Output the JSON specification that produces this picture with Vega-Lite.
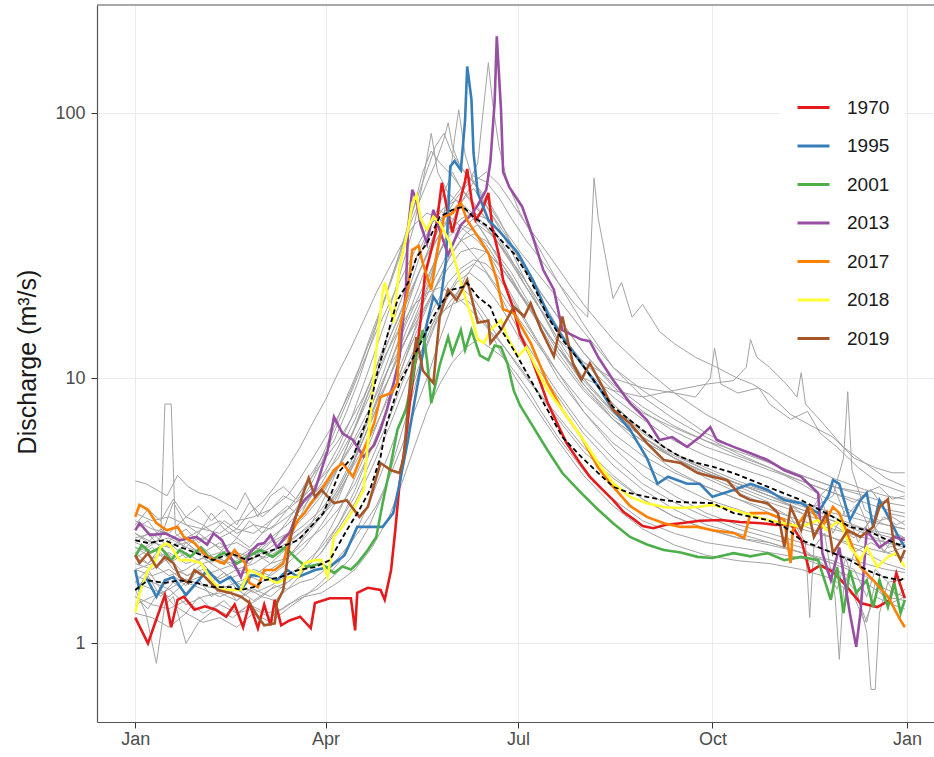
{
  "$schema": "https://vega.github.io/schema/vega-lite/v6.json",
  "width": 837,
  "height": 717,
  "autosize": {"type": "none"},
  "padding": {"left": 97, "top": 5, "right": 0, "bottom": 35},
  "config": {
    "view": {"stroke": null},
    "font": "Liberation Sans",
    "axis": {
      "labelFont": "Liberation Sans",
      "labelFontSize": 18,
      "labelColor": "#4d4d4d",
      "tickColor": "#333333",
      "tickSize": 6,
      "gridColor": "#ebebeb",
      "gridWidth": 1,
      "domainColor": "#555555",
      "domainWidth": 1.2,
      "titleFont": "Liberation Sans",
      "titleFontWeight": "normal",
      "titleColor": "#1a1a1a"
    }
  },
  "datasets": {
    "others": [
      {"year":1972,"day":0,"flow":4.1},{"year":1972,"day":5,"flow":4.0},{"year":1972,"day":10,"flow":3.8},{"year":1972,"day":15,"flow":3.6},{"year":1972,"day":20,"flow":4.3},{"year":1972,"day":25,"flow":3.9},{"year":1972,"day":30,"flow":3.7},{"year":1972,"day":36,"flow":3.6},{"year":1972,"day":42,"flow":3.4},{"year":1972,"day":48,"flow":3.2},{"year":1972,"day":52,"flow":3.7},{"year":1972,"day":58,"flow":3.0},{"year":1972,"day":64,"flow":3.6},{"year":1972,"day":70,"flow":3.9},{"year":1972,"day":76,"flow":3.5},{"year":1972,"day":82,"flow":4.2},{"year":1972,"day":88,"flow":5.0},{"year":1972,"day":94,"flow":5.8},{"year":1972,"day":100,"flow":7.5},{"year":1972,"day":106,"flow":10},{"year":1972,"day":112,"flow":14},{"year":1972,"day":118,"flow":20},{"year":1972,"day":124,"flow":28},{"year":1972,"day":130,"flow":40},{"year":1972,"day":136,"flow":55},{"year":1972,"day":142,"flow":75},{"year":1972,"day":146,"flow":84},{"year":1972,"day":150,"flow":70},{"year":1972,"day":156,"flow":60},{"year":1972,"day":162,"flow":52},{"year":1972,"day":168,"flow":44},{"year":1972,"day":175,"flow":36},{"year":1972,"day":182,"flow":30},{"year":1972,"day":190,"flow":25},{"year":1972,"day":200,"flow":20},{"year":1972,"day":212,"flow":15},{"year":1972,"day":226,"flow":11},{"year":1972,"day":240,"flow":9},{"year":1972,"day":255,"flow":7.5},{"year":1972,"day":270,"flow":6.2},{"year":1972,"day":285,"flow":5.4},{"year":1972,"day":300,"flow":4.8},{"year":1972,"day":315,"flow":4.3},{"year":1972,"day":330,"flow":3.9},{"year":1972,"day":345,"flow":3.7},{"year":1972,"day":352,"flow":3.9},{"year":1972,"day":358,"flow":3.5},{"year":1972,"day":364,"flow":3.6},

      {"year":1975,"day":0,"flow":2.4},{"year":1975,"day":6,"flow":2.3},{"year":1975,"day":12,"flow":2.5},{"year":1975,"day":14,"flow":8.0},{"year":1975,"day":17,"flow":8.0},{"year":1975,"day":19,"flow":2.6},{"year":1975,"day":24,"flow":2.4},{"year":1975,"day":30,"flow":2.2},{"year":1975,"day":38,"flow":2.1},{"year":1975,"day":46,"flow":2.0},{"year":1975,"day":54,"flow":2.2},{"year":1975,"day":62,"flow":2.1},{"year":1975,"day":70,"flow":2.3},{"year":1975,"day":78,"flow":2.6},{"year":1975,"day":86,"flow":2.9},{"year":1975,"day":94,"flow":3.4},{"year":1975,"day":102,"flow":4.5},{"year":1975,"day":110,"flow":6.5},{"year":1975,"day":118,"flow":10},{"year":1975,"day":126,"flow":15},{"year":1975,"day":134,"flow":22},{"year":1975,"day":140,"flow":30},{"year":1975,"day":146,"flow":38},{"year":1975,"day":152,"flow":45},{"year":1975,"day":158,"flow":42},{"year":1975,"day":164,"flow":36},{"year":1975,"day":170,"flow":30},{"year":1975,"day":176,"flow":25},{"year":1975,"day":182,"flow":21},{"year":1975,"day":190,"flow":17},{"year":1975,"day":200,"flow":13},{"year":1975,"day":212,"flow":9.5},{"year":1975,"day":226,"flow":7.2},{"year":1975,"day":240,"flow":6},{"year":1975,"day":255,"flow":5.0},{"year":1975,"day":270,"flow":4.4},{"year":1975,"day":285,"flow":4.0},{"year":1975,"day":300,"flow":3.6},{"year":1975,"day":315,"flow":3.3},{"year":1975,"day":330,"flow":3.0},{"year":1975,"day":340,"flow":2.8},{"year":1975,"day":350,"flow":2.6},{"year":1975,"day":358,"flow":2.5},{"year":1975,"day":364,"flow":2.5},

      {"year":1978,"day":0,"flow":1.6},{"year":1978,"day":5,"flow":1.3},{"year":1978,"day":10,"flow":0.84},{"year":1978,"day":14,"flow":1.4},{"year":1978,"day":18,"flow":1.5},{"year":1978,"day":24,"flow":1.0},{"year":1978,"day":30,"flow":1.2},{"year":1978,"day":38,"flow":1.35},{"year":1978,"day":46,"flow":1.25},{"year":1978,"day":54,"flow":1.4},{"year":1978,"day":62,"flow":1.3},{"year":1978,"day":70,"flow":1.35},{"year":1978,"day":78,"flow":1.5},{"year":1978,"day":86,"flow":1.6},{"year":1978,"day":94,"flow":1.8},{"year":1978,"day":102,"flow":2.1},{"year":1978,"day":110,"flow":2.7},{"year":1978,"day":118,"flow":3.8},{"year":1978,"day":124,"flow":5.5},{"year":1978,"day":130,"flow":8},{"year":1978,"day":136,"flow":12},{"year":1978,"day":142,"flow":16},{"year":1978,"day":148,"flow":19},{"year":1978,"day":154,"flow":22},{"year":1978,"day":160,"flow":20},{"year":1978,"day":166,"flow":17},{"year":1978,"day":172,"flow":14},{"year":1978,"day":178,"flow":12},{"year":1978,"day":185,"flow":10},{"year":1978,"day":192,"flow":8.5},{"year":1978,"day":200,"flow":7.0},{"year":1978,"day":212,"flow":5.3},{"year":1978,"day":226,"flow":4.2},{"year":1978,"day":240,"flow":3.5},{"year":1978,"day":255,"flow":3.0},{"year":1978,"day":270,"flow":2.7},{"year":1978,"day":285,"flow":2.5},{"year":1978,"day":300,"flow":2.4},{"year":1978,"day":315,"flow":2.2},{"year":1978,"day":330,"flow":2.0},{"year":1978,"day":345,"flow":1.8},{"year":1978,"day":355,"flow":1.6},{"year":1978,"day":364,"flow":1.5},

      {"year":1980,"day":0,"flow":2.1},{"year":1980,"day":6,"flow":2.0},{"year":1980,"day":12,"flow":2.2},{"year":1980,"day":18,"flow":1.9},{"year":1980,"day":25,"flow":1.8},{"year":1980,"day":32,"flow":2.0},{"year":1980,"day":40,"flow":1.7},{"year":1980,"day":48,"flow":1.8},{"year":1980,"day":56,"flow":1.9},{"year":1980,"day":64,"flow":1.8},{"year":1980,"day":72,"flow":2.0},{"year":1980,"day":80,"flow":2.3},{"year":1980,"day":88,"flow":2.8},{"year":1980,"day":96,"flow":3.5},{"year":1980,"day":104,"flow":5},{"year":1980,"day":112,"flow":8},{"year":1980,"day":120,"flow":12},{"year":1980,"day":128,"flow":18},{"year":1980,"day":134,"flow":25},{"year":1980,"day":140,"flow":32},{"year":1980,"day":146,"flow":40},{"year":1980,"day":152,"flow":48},{"year":1980,"day":158,"flow":55},{"year":1980,"day":162,"flow":65},{"year":1980,"day":165,"flow":110},{"year":1980,"day":167,"flow":155},{"year":1980,"day":169,"flow":110},{"year":1980,"day":172,"flow":75},{"year":1980,"day":176,"flow":55},{"year":1980,"day":182,"flow":42},{"year":1980,"day":190,"flow":32},{"year":1980,"day":200,"flow":23},{"year":1980,"day":212,"flow":16},{"year":1980,"day":226,"flow":11},{"year":1980,"day":240,"flow":8.5},{"year":1980,"day":255,"flow":7},{"year":1980,"day":270,"flow":6},{"year":1980,"day":285,"flow":5.2},{"year":1980,"day":300,"flow":4.6},{"year":1980,"day":315,"flow":4.0},{"year":1980,"day":330,"flow":3.4},{"year":1980,"day":345,"flow":3.0},{"year":1980,"day":355,"flow":2.8},{"year":1980,"day":364,"flow":2.7},

      {"year":1983,"day":0,"flow":2.9},{"year":1983,"day":8,"flow":2.7},{"year":1983,"day":16,"flow":2.6},{"year":1983,"day":24,"flow":3.0},{"year":1983,"day":32,"flow":2.8},{"year":1983,"day":40,"flow":2.5},{"year":1983,"day":48,"flow":2.7},{"year":1983,"day":56,"flow":2.6},{"year":1983,"day":64,"flow":2.9},{"year":1983,"day":72,"flow":3.2},{"year":1983,"day":80,"flow":3.6},{"year":1983,"day":88,"flow":4.2},{"year":1983,"day":96,"flow":5.0},{"year":1983,"day":104,"flow":6.5},{"year":1983,"day":112,"flow":9},{"year":1983,"day":120,"flow":13},{"year":1983,"day":128,"flow":19},{"year":1983,"day":136,"flow":27},{"year":1983,"day":142,"flow":36},{"year":1983,"day":148,"flow":45},{"year":1983,"day":154,"flow":52},{"year":1983,"day":160,"flow":58},{"year":1983,"day":166,"flow":55},{"year":1983,"day":172,"flow":48},{"year":1983,"day":178,"flow":40},{"year":1983,"day":185,"flow":33},{"year":1983,"day":192,"flow":28},{"year":1983,"day":200,"flow":23},{"year":1983,"day":208,"flow":19},{"year":1983,"day":214,"flow":17},{"year":1983,"day":217,"flow":57},{"year":1983,"day":219,"flow":40},{"year":1983,"day":222,"flow":30},{"year":1983,"day":226,"flow":20},{"year":1983,"day":230,"flow":23},{"year":1983,"day":235,"flow":17},{"year":1983,"day":240,"flow":19},{"year":1983,"day":248,"flow":15},{"year":1983,"day":255,"flow":13.5},{"year":1983,"day":265,"flow":12},{"year":1983,"day":275,"flow":11},{"year":1983,"day":285,"flow":10},{"year":1983,"day":292,"flow":9.5},{"year":1983,"day":300,"flow":8.7},{"year":1983,"day":310,"flow":7.3},{"year":1983,"day":320,"flow":6.6},{"year":1983,"day":330,"flow":6.0},{"year":1983,"day":340,"flow":5.0},{"year":1983,"day":350,"flow":4.6},{"year":1983,"day":358,"flow":4.4},{"year":1983,"day":364,"flow":4.4},

      {"year":1986,"day":0,"flow":2.3},{"year":1986,"day":8,"flow":2.2},{"year":1986,"day":16,"flow":2.4},{"year":1986,"day":24,"flow":2.1},{"year":1986,"day":32,"flow":2.3},{"year":1986,"day":40,"flow":2.0},{"year":1986,"day":48,"flow":2.2},{"year":1986,"day":56,"flow":2.1},{"year":1986,"day":64,"flow":2.4},{"year":1986,"day":72,"flow":2.6},{"year":1986,"day":80,"flow":3.0},{"year":1986,"day":88,"flow":3.6},{"year":1986,"day":96,"flow":4.6},{"year":1986,"day":104,"flow":6.5},{"year":1986,"day":112,"flow":9.5},{"year":1986,"day":120,"flow":14},{"year":1986,"day":128,"flow":20},{"year":1986,"day":134,"flow":28},{"year":1986,"day":140,"flow":38},{"year":1986,"day":146,"flow":50},{"year":1986,"day":150,"flow":60},{"year":1986,"day":154,"flow":52},{"year":1986,"day":160,"flow":45},{"year":1986,"day":166,"flow":40},{"year":1986,"day":172,"flow":34},{"year":1986,"day":178,"flow":28},{"year":1986,"day":185,"flow":22},{"year":1986,"day":192,"flow":18},{"year":1986,"day":200,"flow":14},{"year":1986,"day":212,"flow":11.5},{"year":1986,"day":226,"flow":10},{"year":1986,"day":240,"flow":9.2},{"year":1986,"day":255,"flow":8.8},{"year":1986,"day":265,"flow":8.5},{"year":1986,"day":272,"flow":10},{"year":1986,"day":274,"flow":13},{"year":1986,"day":277,"flow":9.5},{"year":1986,"day":285,"flow":8.8},{"year":1986,"day":295,"flow":9.2},{"year":1986,"day":300,"flow":8},{"year":1986,"day":310,"flow":7},{"year":1986,"day":318,"flow":7.5},{"year":1986,"day":324,"flow":6.2},{"year":1986,"day":332,"flow":5.5},{"year":1986,"day":342,"flow":4.6},{"year":1986,"day":352,"flow":4.0},{"year":1986,"day":364,"flow":3.7},

      {"year":1989,"day":0,"flow":2.6},{"year":1989,"day":8,"flow":2.4},{"year":1989,"day":16,"flow":2.5},{"year":1989,"day":24,"flow":2.3},{"year":1989,"day":32,"flow":2.2},{"year":1989,"day":40,"flow":2.4},{"year":1989,"day":48,"flow":2.1},{"year":1989,"day":56,"flow":2.3},{"year":1989,"day":64,"flow":2.2},{"year":1989,"day":72,"flow":2.5},{"year":1989,"day":80,"flow":2.8},{"year":1989,"day":88,"flow":3.2},{"year":1989,"day":96,"flow":3.9},{"year":1989,"day":104,"flow":5.2},{"year":1989,"day":112,"flow":7.5},{"year":1989,"day":120,"flow":11},{"year":1989,"day":128,"flow":16},{"year":1989,"day":136,"flow":22},{"year":1989,"day":142,"flow":28},{"year":1989,"day":148,"flow":34},{"year":1989,"day":154,"flow":38},{"year":1989,"day":160,"flow":36},{"year":1989,"day":166,"flow":32},{"year":1989,"day":172,"flow":27},{"year":1989,"day":178,"flow":23},{"year":1989,"day":185,"flow":19},{"year":1989,"day":192,"flow":16},{"year":1989,"day":200,"flow":13},{"year":1989,"day":212,"flow":10},{"year":1989,"day":226,"flow":9},{"year":1989,"day":240,"flow":8.5},{"year":1989,"day":255,"flow":9.0},{"year":1989,"day":270,"flow":9.5},{"year":1989,"day":283,"flow":9.8},{"year":1989,"day":289,"flow":11},{"year":1989,"day":291,"flow":14},{"year":1989,"day":294,"flow":12},{"year":1989,"day":300,"flow":11},{"year":1989,"day":308,"flow":9.5},{"year":1989,"day":313,"flow":8.5},{"year":1989,"day":315,"flow":10.5},{"year":1989,"day":317,"flow":8},{"year":1989,"day":325,"flow":6.8},{"year":1989,"day":335,"flow":5.5},{"year":1989,"day":345,"flow":4.8},{"year":1989,"day":355,"flow":4.2},{"year":1989,"day":364,"flow":3.9},

      {"year":1991,"day":0,"flow":2.0},{"year":1991,"day":8,"flow":1.9},{"year":1991,"day":16,"flow":2.1},{"year":1991,"day":24,"flow":1.8},{"year":1991,"day":32,"flow":1.9},{"year":1991,"day":40,"flow":1.75},{"year":1991,"day":48,"flow":1.9},{"year":1991,"day":56,"flow":1.8},{"year":1991,"day":64,"flow":2.0},{"year":1991,"day":72,"flow":2.1},{"year":1991,"day":80,"flow":2.4},{"year":1991,"day":88,"flow":2.7},{"year":1991,"day":96,"flow":3.2},{"year":1991,"day":104,"flow":4.0},{"year":1991,"day":112,"flow":5.5},{"year":1991,"day":120,"flow":8},{"year":1991,"day":128,"flow":12},{"year":1991,"day":136,"flow":17},{"year":1991,"day":142,"flow":22},{"year":1991,"day":148,"flow":28},{"year":1991,"day":154,"flow":33},{"year":1991,"day":160,"flow":35},{"year":1991,"day":166,"flow":33},{"year":1991,"day":172,"flow":29},{"year":1991,"day":178,"flow":25},{"year":1991,"day":185,"flow":20},{"year":1991,"day":192,"flow":16},{"year":1991,"day":200,"flow":12.5},{"year":1991,"day":212,"flow":9.2},{"year":1991,"day":226,"flow":7.0},{"year":1991,"day":240,"flow":5.8},{"year":1991,"day":255,"flow":5.0},{"year":1991,"day":270,"flow":4.4},{"year":1991,"day":285,"flow":4.0},{"year":1991,"day":300,"flow":3.7},{"year":1991,"day":312,"flow":3.4},{"year":1991,"day":322,"flow":3.3},{"year":1991,"day":330,"flow":3.6},{"year":1991,"day":335,"flow":5},{"year":1991,"day":337,"flow":8.9},{"year":1991,"day":339,"flow":4.5},{"year":1991,"day":345,"flow":3.2},{"year":1991,"day":352,"flow":2.9},{"year":1991,"day":358,"flow":3.0},{"year":1991,"day":364,"flow":2.8},

      {"year":1993,"day":0,"flow":1.7},{"year":1993,"day":8,"flow":1.6},{"year":1993,"day":16,"flow":1.5},{"year":1993,"day":24,"flow":1.7},{"year":1993,"day":32,"flow":1.6},{"year":1993,"day":40,"flow":1.5},{"year":1993,"day":48,"flow":1.6},{"year":1993,"day":56,"flow":1.45},{"year":1993,"day":64,"flow":1.6},{"year":1993,"day":72,"flow":1.7},{"year":1993,"day":80,"flow":1.9},{"year":1993,"day":88,"flow":2.2},{"year":1993,"day":96,"flow":2.7},{"year":1993,"day":104,"flow":3.4},{"year":1993,"day":112,"flow":4.6},{"year":1993,"day":120,"flow":6.5},{"year":1993,"day":128,"flow":9.5},{"year":1993,"day":136,"flow":13},{"year":1993,"day":142,"flow":17},{"year":1993,"day":148,"flow":21},{"year":1993,"day":154,"flow":25},{"year":1993,"day":160,"flow":27},{"year":1993,"day":166,"flow":25},{"year":1993,"day":172,"flow":21},{"year":1993,"day":178,"flow":17},{"year":1993,"day":185,"flow":13.5},{"year":1993,"day":192,"flow":11},{"year":1993,"day":200,"flow":8.8},{"year":1993,"day":212,"flow":6.5},{"year":1993,"day":226,"flow":5.0},{"year":1993,"day":240,"flow":4.0},{"year":1993,"day":255,"flow":3.4},{"year":1993,"day":270,"flow":3.0},{"year":1993,"day":285,"flow":2.7},{"year":1993,"day":300,"flow":2.5},{"year":1993,"day":315,"flow":2.3},{"year":1993,"day":325,"flow":2.0},{"year":1993,"day":332,"flow":1.6},{"year":1993,"day":336,"flow":2.1},{"year":1993,"day":342,"flow":1.5},{"year":1993,"day":346,"flow":1.1},{"year":1993,"day":348,"flow":0.67},{"year":1993,"day":350,"flow":0.67},{"year":1993,"day":352,"flow":1.3},{"year":1993,"day":356,"flow":1.7},{"year":1993,"day":360,"flow":1.5},{"year":1993,"day":364,"flow":1.6},

      {"year":1997,"day":0,"flow":1.9},{"year":1997,"day":8,"flow":2.0},{"year":1997,"day":16,"flow":1.8},{"year":1997,"day":24,"flow":1.9},{"year":1997,"day":32,"flow":2.1},{"year":1997,"day":40,"flow":1.9},{"year":1997,"day":48,"flow":2.0},{"year":1997,"day":56,"flow":2.2},{"year":1997,"day":64,"flow":2.0},{"year":1997,"day":72,"flow":2.3},{"year":1997,"day":80,"flow":2.6},{"year":1997,"day":88,"flow":3.0},{"year":1997,"day":96,"flow":3.8},{"year":1997,"day":104,"flow":5.0},{"year":1997,"day":112,"flow":7.0},{"year":1997,"day":120,"flow":10},{"year":1997,"day":128,"flow":14},{"year":1997,"day":136,"flow":19},{"year":1997,"day":142,"flow":24},{"year":1997,"day":148,"flow":30},{"year":1997,"day":154,"flow":36},{"year":1997,"day":160,"flow":40},{"year":1997,"day":166,"flow":37},{"year":1997,"day":172,"flow":32},{"year":1997,"day":178,"flow":27},{"year":1997,"day":185,"flow":22},{"year":1997,"day":192,"flow":18},{"year":1997,"day":200,"flow":14},{"year":1997,"day":212,"flow":10},{"year":1997,"day":226,"flow":7.5},{"year":1997,"day":240,"flow":6.0},{"year":1997,"day":255,"flow":5.0},{"year":1997,"day":270,"flow":4.2},{"year":1997,"day":285,"flow":3.7},{"year":1997,"day":300,"flow":3.3},{"year":1997,"day":310,"flow":3.0},{"year":1997,"day":317,"flow":2.4},{"year":1997,"day":319,"flow":1.25},{"year":1997,"day":321,"flow":2.3},{"year":1997,"day":326,"flow":2.6},{"year":1997,"day":331,"flow":1.5},{"year":1997,"day":333,"flow":0.87},{"year":1997,"day":335,"flow":1.6},{"year":1997,"day":340,"flow":2.2},{"year":1997,"day":348,"flow":2.4},{"year":1997,"day":356,"flow":2.2},{"year":1997,"day":364,"flow":2.3},

      {"year":1999,"day":0,"flow":1.5},{"year":1999,"day":8,"flow":1.4},{"year":1999,"day":16,"flow":1.35},{"year":1999,"day":24,"flow":1.45},{"year":1999,"day":32,"flow":1.3},{"year":1999,"day":40,"flow":1.4},{"year":1999,"day":48,"flow":1.3},{"year":1999,"day":56,"flow":1.35},{"year":1999,"day":64,"flow":1.25},{"year":1999,"day":72,"flow":1.4},{"year":1999,"day":80,"flow":1.5},{"year":1999,"day":88,"flow":1.55},{"year":1999,"day":96,"flow":1.7},{"year":1999,"day":104,"flow":1.9},{"year":1999,"day":112,"flow":2.3},{"year":1999,"day":120,"flow":3.0},{"year":1999,"day":126,"flow":4.0},{"year":1999,"day":132,"flow":5.5},{"year":1999,"day":138,"flow":7.5},{"year":1999,"day":144,"flow":9.5},{"year":1999,"day":150,"flow":11.5},{"year":1999,"day":156,"flow":13},{"year":1999,"day":162,"flow":14},{"year":1999,"day":168,"flow":13},{"year":1999,"day":174,"flow":12},{"year":1999,"day":180,"flow":10.5},{"year":1999,"day":186,"flow":9},{"year":1999,"day":192,"flow":7.5},{"year":1999,"day":200,"flow":6},{"year":1999,"day":212,"flow":4.5},{"year":1999,"day":226,"flow":3.5},{"year":1999,"day":240,"flow":2.9},{"year":1999,"day":255,"flow":2.6},{"year":1999,"day":270,"flow":2.4},{"year":1999,"day":285,"flow":2.3},{"year":1999,"day":300,"flow":2.2},{"year":1999,"day":315,"flow":2.1},{"year":1999,"day":330,"flow":1.9},{"year":1999,"day":345,"flow":1.7},{"year":1999,"day":355,"flow":1.5},{"year":1999,"day":364,"flow":1.45},

      {"year":2003,"day":0,"flow":2.2},{"year":2003,"day":8,"flow":2.4},{"year":2003,"day":16,"flow":2.3},{"year":2003,"day":24,"flow":2.5},{"year":2003,"day":32,"flow":2.7},{"year":2003,"day":40,"flow":2.6},{"year":2003,"day":48,"flow":2.9},{"year":2003,"day":56,"flow":3.0},{"year":2003,"day":64,"flow":3.2},{"year":2003,"day":70,"flow":3.6},{"year":2003,"day":76,"flow":3.4},{"year":2003,"day":82,"flow":4.0},{"year":2003,"day":88,"flow":5.0},{"year":2003,"day":94,"flow":6.5},{"year":2003,"day":100,"flow":8.5},{"year":2003,"day":106,"flow":11},{"year":2003,"day":112,"flow":15},{"year":2003,"day":118,"flow":20},{"year":2003,"day":124,"flow":28},{"year":2003,"day":130,"flow":38},{"year":2003,"day":136,"flow":50},{"year":2003,"day":142,"flow":65},{"year":2003,"day":146,"flow":80},{"year":2003,"day":148,"flow":92},{"year":2003,"day":150,"flow":75},{"year":2003,"day":154,"flow":62},{"year":2003,"day":160,"flow":55},{"year":2003,"day":166,"flow":48},{"year":2003,"day":172,"flow":40},{"year":2003,"day":178,"flow":32},{"year":2003,"day":185,"flow":25},{"year":2003,"day":192,"flow":20},{"year":2003,"day":200,"flow":15.5},{"year":2003,"day":212,"flow":11},{"year":2003,"day":226,"flow":8},{"year":2003,"day":240,"flow":6.2},{"year":2003,"day":255,"flow":5.2},{"year":2003,"day":270,"flow":4.6},{"year":2003,"day":285,"flow":4.1},{"year":2003,"day":300,"flow":3.7},{"year":2003,"day":315,"flow":3.4},{"year":2003,"day":330,"flow":3.1},{"year":2003,"day":345,"flow":2.9},{"year":2003,"day":355,"flow":2.8},{"year":2003,"day":364,"flow":2.7},

      {"year":2005,"day":0,"flow":1.4},{"year":2005,"day":8,"flow":1.5},{"year":2005,"day":16,"flow":1.6},{"year":2005,"day":24,"flow":1.4},{"year":2005,"day":32,"flow":1.5},{"year":2005,"day":40,"flow":1.55},{"year":2005,"day":48,"flow":1.45},{"year":2005,"day":56,"flow":1.6},{"year":2005,"day":64,"flow":1.5},{"year":2005,"day":72,"flow":1.7},{"year":2005,"day":80,"flow":1.9},{"year":2005,"day":88,"flow":2.2},{"year":2005,"day":96,"flow":2.8},{"year":2005,"day":104,"flow":3.8},{"year":2005,"day":112,"flow":5.5},{"year":2005,"day":120,"flow":8},{"year":2005,"day":128,"flow":12},{"year":2005,"day":134,"flow":17},{"year":2005,"day":140,"flow":24},{"year":2005,"day":144,"flow":35},{"year":2005,"day":148,"flow":50},{"year":2005,"day":151,"flow":80},{"year":2005,"day":153,"flow":103},{"year":2005,"day":156,"flow":70},{"year":2005,"day":160,"flow":55},{"year":2005,"day":166,"flow":45},{"year":2005,"day":172,"flow":37},{"year":2005,"day":178,"flow":30},{"year":2005,"day":185,"flow":23},{"year":2005,"day":192,"flow":18},{"year":2005,"day":200,"flow":13.5},{"year":2005,"day":212,"flow":9.5},{"year":2005,"day":226,"flow":7},{"year":2005,"day":240,"flow":5.5},{"year":2005,"day":255,"flow":4.5},{"year":2005,"day":270,"flow":3.9},{"year":2005,"day":285,"flow":3.5},{"year":2005,"day":300,"flow":3.1},{"year":2005,"day":315,"flow":2.8},{"year":2005,"day":330,"flow":2.5},{"year":2005,"day":345,"flow":2.2},{"year":2005,"day":355,"flow":2.0},{"year":2005,"day":364,"flow":1.9},

      {"year":2008,"day":0,"flow":2.7},{"year":2008,"day":6,"flow":2.9},{"year":2008,"day":12,"flow":2.5},{"year":2008,"day":18,"flow":3.4},{"year":2008,"day":24,"flow":2.8},{"year":2008,"day":30,"flow":2.6},{"year":2008,"day":36,"flow":3.1},{"year":2008,"day":42,"flow":2.7},{"year":2008,"day":48,"flow":2.5},{"year":2008,"day":54,"flow":2.9},{"year":2008,"day":60,"flow":2.6},{"year":2008,"day":66,"flow":3.0},{"year":2008,"day":72,"flow":3.3},{"year":2008,"day":78,"flow":3.0},{"year":2008,"day":84,"flow":3.8},{"year":2008,"day":90,"flow":4.5},{"year":2008,"day":96,"flow":5.5},{"year":2008,"day":102,"flow":7},{"year":2008,"day":108,"flow":9.5},{"year":2008,"day":114,"flow":13},{"year":2008,"day":120,"flow":18},{"year":2008,"day":126,"flow":26},{"year":2008,"day":132,"flow":38},{"year":2008,"day":136,"flow":55},{"year":2008,"day":140,"flow":84},{"year":2008,"day":143,"flow":60},{"year":2008,"day":148,"flow":50},{"year":2008,"day":154,"flow":45},{"year":2008,"day":160,"flow":40},{"year":2008,"day":166,"flow":34},{"year":2008,"day":172,"flow":28},{"year":2008,"day":178,"flow":24},{"year":2008,"day":185,"flow":19},{"year":2008,"day":192,"flow":15.5},{"year":2008,"day":200,"flow":12},{"year":2008,"day":212,"flow":9},{"year":2008,"day":226,"flow":7},{"year":2008,"day":240,"flow":5.8},{"year":2008,"day":255,"flow":5},{"year":2008,"day":270,"flow":4.4},{"year":2008,"day":285,"flow":3.9},{"year":2008,"day":300,"flow":3.5},{"year":2008,"day":315,"flow":3.2},{"year":2008,"day":330,"flow":2.9},{"year":2008,"day":345,"flow":2.7},{"year":2008,"day":355,"flow":2.6},{"year":2008,"day":364,"flow":2.5},

      {"year":2010,"day":0,"flow":1.8},{"year":2010,"day":8,"flow":1.7},{"year":2010,"day":16,"flow":1.6},{"year":2010,"day":24,"flow":1.75},{"year":2010,"day":32,"flow":1.65},{"year":2010,"day":40,"flow":1.6},{"year":2010,"day":48,"flow":1.7},{"year":2010,"day":56,"flow":1.55},{"year":2010,"day":64,"flow":1.65},{"year":2010,"day":72,"flow":1.8},{"year":2010,"day":80,"flow":2.0},{"year":2010,"day":88,"flow":2.3},{"year":2010,"day":96,"flow":2.8},{"year":2010,"day":104,"flow":3.6},{"year":2010,"day":112,"flow":5},{"year":2010,"day":120,"flow":7},{"year":2010,"day":126,"flow":9.5},{"year":2010,"day":132,"flow":12.5},{"year":2010,"day":138,"flow":15},{"year":2010,"day":144,"flow":17.5},{"year":2010,"day":150,"flow":19},{"year":2010,"day":156,"flow":20},{"year":2010,"day":162,"flow":18},{"year":2010,"day":168,"flow":15},{"year":2010,"day":174,"flow":12},{"year":2010,"day":180,"flow":10},{"year":2010,"day":186,"flow":8.5},{"year":2010,"day":192,"flow":7.2},{"year":2010,"day":200,"flow":5.8},{"year":2010,"day":212,"flow":4.3},{"year":2010,"day":226,"flow":3.3},{"year":2010,"day":240,"flow":2.7},{"year":2010,"day":255,"flow":2.35},{"year":2010,"day":270,"flow":2.15},{"year":2010,"day":285,"flow":2.05},{"year":2010,"day":300,"flow":2.0},{"year":2010,"day":315,"flow":1.9},{"year":2010,"day":330,"flow":1.75},{"year":2010,"day":340,"flow":1.5},{"year":2010,"day":345,"flow":1.2},{"year":2010,"day":350,"flow":1.5},{"year":2010,"day":358,"flow":1.4},{"year":2010,"day":364,"flow":1.35},

      {"year":2012,"day":0,"flow":2.5},{"year":2012,"day":8,"flow":2.6},{"year":2012,"day":16,"flow":2.3},{"year":2012,"day":24,"flow":2.4},{"year":2012,"day":32,"flow":2.5},{"year":2012,"day":40,"flow":2.3},{"year":2012,"day":48,"flow":2.4},{"year":2012,"day":56,"flow":2.2},{"year":2012,"day":64,"flow":2.5},{"year":2012,"day":72,"flow":2.8},{"year":2012,"day":80,"flow":3.3},{"year":2012,"day":88,"flow":4.0},{"year":2012,"day":96,"flow":5.2},{"year":2012,"day":104,"flow":7},{"year":2012,"day":112,"flow":10},{"year":2012,"day":120,"flow":15},{"year":2012,"day":128,"flow":22},{"year":2012,"day":134,"flow":30},{"year":2012,"day":140,"flow":38},{"year":2012,"day":146,"flow":44},{"year":2012,"day":152,"flow":47},{"year":2012,"day":158,"flow":43},{"year":2012,"day":164,"flow":39},{"year":2012,"day":170,"flow":34},{"year":2012,"day":176,"flow":29},{"year":2012,"day":182,"flow":25},{"year":2012,"day":190,"flow":20},{"year":2012,"day":200,"flow":15},{"year":2012,"day":212,"flow":11},{"year":2012,"day":226,"flow":8.5},{"year":2012,"day":240,"flow":7},{"year":2012,"day":255,"flow":5.8},{"year":2012,"day":270,"flow":5.1},{"year":2012,"day":285,"flow":4.6},{"year":2012,"day":300,"flow":4.2},{"year":2012,"day":312,"flow":3.8},{"year":2012,"day":322,"flow":3.5},{"year":2012,"day":330,"flow":4.0},{"year":2012,"day":336,"flow":3.0},{"year":2012,"day":342,"flow":3.4},{"year":2012,"day":348,"flow":2.6},{"year":2012,"day":354,"flow":3.0},{"year":2012,"day":360,"flow":2.8},{"year":2012,"day":364,"flow":2.9},

      {"year":2015,"day":0,"flow":1.3},{"year":2015,"day":8,"flow":1.25},{"year":2015,"day":16,"flow":1.15},{"year":2015,"day":24,"flow":1.3},{"year":2015,"day":32,"flow":1.2},{"year":2015,"day":40,"flow":1.25},{"year":2015,"day":48,"flow":1.15},{"year":2015,"day":56,"flow":1.3},{"year":2015,"day":64,"flow":1.2},{"year":2015,"day":72,"flow":1.35},{"year":2015,"day":80,"flow":1.5},{"year":2015,"day":88,"flow":1.7},{"year":2015,"day":96,"flow":2.0},{"year":2015,"day":104,"flow":2.6},{"year":2015,"day":112,"flow":3.6},{"year":2015,"day":120,"flow":5.2},{"year":2015,"day":128,"flow":7.8},{"year":2015,"day":134,"flow":11},{"year":2015,"day":140,"flow":15},{"year":2015,"day":146,"flow":19},{"year":2015,"day":152,"flow":23},{"year":2015,"day":158,"flow":25},{"year":2015,"day":164,"flow":23},{"year":2015,"day":170,"flow":20},{"year":2015,"day":176,"flow":17},{"year":2015,"day":182,"flow":14},{"year":2015,"day":190,"flow":11},{"year":2015,"day":200,"flow":8.5},{"year":2015,"day":212,"flow":6.2},{"year":2015,"day":226,"flow":4.7},{"year":2015,"day":240,"flow":3.8},{"year":2015,"day":255,"flow":3.2},{"year":2015,"day":270,"flow":2.8},{"year":2015,"day":285,"flow":2.6},{"year":2015,"day":300,"flow":2.4},{"year":2015,"day":315,"flow":2.2},{"year":2015,"day":330,"flow":2.0},{"year":2015,"day":340,"flow":1.6},{"year":2015,"day":346,"flow":1.2},{"year":2015,"day":350,"flow":1.7},{"year":2015,"day":356,"flow":1.4},{"year":2015,"day":364,"flow":1.5},

      {"year":2016,"day":0,"flow":3.1},{"year":2016,"day":8,"flow":2.9},{"year":2016,"day":16,"flow":3.0},{"year":2016,"day":24,"flow":2.8},{"year":2016,"day":32,"flow":2.7},{"year":2016,"day":40,"flow":2.9},{"year":2016,"day":48,"flow":2.6},{"year":2016,"day":56,"flow":2.8},{"year":2016,"day":64,"flow":2.7},{"year":2016,"day":72,"flow":3.0},{"year":2016,"day":80,"flow":3.4},{"year":2016,"day":88,"flow":3.9},{"year":2016,"day":96,"flow":4.6},{"year":2016,"day":104,"flow":5.8},{"year":2016,"day":112,"flow":7.5},{"year":2016,"day":120,"flow":10},{"year":2016,"day":128,"flow":14},{"year":2016,"day":136,"flow":20},{"year":2016,"day":142,"flow":27},{"year":2016,"day":148,"flow":36},{"year":2016,"day":154,"flow":46},{"year":2016,"day":160,"flow":55},{"year":2016,"day":166,"flow":60},{"year":2016,"day":172,"flow":54},{"year":2016,"day":178,"flow":46},{"year":2016,"day":185,"flow":38},{"year":2016,"day":192,"flow":32},{"year":2016,"day":200,"flow":26},{"year":2016,"day":212,"flow":19},{"year":2016,"day":226,"flow":14},{"year":2016,"day":240,"flow":11},{"year":2016,"day":255,"flow":8.8},{"year":2016,"day":270,"flow":7.3},{"year":2016,"day":285,"flow":6.3},{"year":2016,"day":300,"flow":5.5},{"year":2016,"day":315,"flow":4.8},{"year":2016,"day":330,"flow":4.2},{"year":2016,"day":345,"flow":3.8},{"year":2016,"day":355,"flow":3.6},{"year":2016,"day":364,"flow":3.5},

      {"year":1973,"day":0,"flow":2.1},{"year":1973,"day":8,"flow":2.3},{"year":1973,"day":16,"flow":2.0},{"year":1973,"day":24,"flow":2.2},{"year":1973,"day":32,"flow":2.0},{"year":1973,"day":40,"flow":2.1},{"year":1973,"day":48,"flow":1.9},{"year":1973,"day":56,"flow":2.0},{"year":1973,"day":64,"flow":2.2},{"year":1973,"day":72,"flow":2.4},{"year":1973,"day":80,"flow":2.7},{"year":1973,"day":88,"flow":3.1},{"year":1973,"day":96,"flow":3.8},{"year":1973,"day":104,"flow":5.0},{"year":1973,"day":112,"flow":7.0},{"year":1973,"day":120,"flow":10},{"year":1973,"day":128,"flow":15},{"year":1973,"day":136,"flow":21},{"year":1973,"day":142,"flow":28},{"year":1973,"day":148,"flow":35},{"year":1973,"day":154,"flow":40},{"year":1973,"day":160,"flow":42},{"year":1973,"day":166,"flow":40},{"year":1973,"day":172,"flow":36},{"year":1973,"day":178,"flow":31},{"year":1973,"day":185,"flow":26},{"year":1973,"day":192,"flow":21},{"year":1973,"day":200,"flow":17},{"year":1973,"day":212,"flow":12.5},{"year":1973,"day":226,"flow":9.3},{"year":1973,"day":240,"flow":7.5},{"year":1973,"day":255,"flow":6.3},{"year":1973,"day":270,"flow":5.5},{"year":1973,"day":285,"flow":5.0},{"year":1973,"day":300,"flow":4.5},{"year":1973,"day":315,"flow":4.1},{"year":1973,"day":330,"flow":3.7},{"year":1973,"day":345,"flow":3.4},{"year":1973,"day":355,"flow":3.2},{"year":1973,"day":364,"flow":3.1},

      {"year":1985,"day":0,"flow":1.9},{"year":1985,"day":8,"flow":1.8},{"year":1985,"day":16,"flow":1.9},{"year":1985,"day":24,"flow":1.7},{"year":1985,"day":32,"flow":1.8},{"year":1985,"day":40,"flow":1.9},{"year":1985,"day":48,"flow":1.7},{"year":1985,"day":56,"flow":1.8},{"year":1985,"day":64,"flow":1.9},{"year":1985,"day":72,"flow":2.1},{"year":1985,"day":80,"flow":2.5},{"year":1985,"day":88,"flow":3.0},{"year":1985,"day":96,"flow":3.7},{"year":1985,"day":104,"flow":4.8},{"year":1985,"day":112,"flow":6.2},{"year":1985,"day":120,"flow":8.5},{"year":1985,"day":128,"flow":11},{"year":1985,"day":136,"flow":15},{"year":1985,"day":142,"flow":19},{"year":1985,"day":148,"flow":23},{"year":1985,"day":154,"flow":26},{"year":1985,"day":160,"flow":28},{"year":1985,"day":166,"flow":27},{"year":1985,"day":172,"flow":24},{"year":1985,"day":178,"flow":20},{"year":1985,"day":185,"flow":16},{"year":1985,"day":192,"flow":13},{"year":1985,"day":200,"flow":10},{"year":1985,"day":212,"flow":7.5},{"year":1985,"day":226,"flow":5.7},{"year":1985,"day":240,"flow":4.7},{"year":1985,"day":255,"flow":4.0},{"year":1985,"day":270,"flow":3.5},{"year":1985,"day":285,"flow":3.2},{"year":1985,"day":300,"flow":2.9},{"year":1985,"day":315,"flow":2.7},{"year":1985,"day":330,"flow":2.5},{"year":1985,"day":345,"flow":2.3},{"year":1985,"day":355,"flow":2.2},{"year":1985,"day":364,"flow":2.1},

      {"year":2007,"day":0,"flow":2.3},{"year":2007,"day":8,"flow":2.1},{"year":2007,"day":16,"flow":2.2},{"year":2007,"day":24,"flow":2.0},{"year":2007,"day":32,"flow":2.1},{"year":2007,"day":40,"flow":2.2},{"year":2007,"day":48,"flow":2.0},{"year":2007,"day":56,"flow":2.1},{"year":2007,"day":64,"flow":2.3},{"year":2007,"day":72,"flow":2.6},{"year":2007,"day":80,"flow":3.1},{"year":2007,"day":88,"flow":3.7},{"year":2007,"day":96,"flow":4.6},{"year":2007,"day":104,"flow":6.0},{"year":2007,"day":112,"flow":8},{"year":2007,"day":120,"flow":11},{"year":2007,"day":128,"flow":14},{"year":2007,"day":136,"flow":18},{"year":2007,"day":142,"flow":22},{"year":2007,"day":148,"flow":26},{"year":2007,"day":154,"flow":30},{"year":2007,"day":160,"flow":31},{"year":2007,"day":166,"flow":30},{"year":2007,"day":172,"flow":27},{"year":2007,"day":178,"flow":23},{"year":2007,"day":185,"flow":19},{"year":2007,"day":192,"flow":16},{"year":2007,"day":200,"flow":13},{"year":2007,"day":212,"flow":10},{"year":2007,"day":226,"flow":7.5},{"year":2007,"day":240,"flow":6.0},{"year":2007,"day":255,"flow":5.0},{"year":2007,"day":270,"flow":4.3},{"year":2007,"day":285,"flow":3.8},{"year":2007,"day":300,"flow":3.4},{"year":2007,"day":315,"flow":3.1},{"year":2007,"day":330,"flow":2.8},{"year":2007,"day":340,"flow":2.5},{"year":2007,"day":348,"flow":2.9},{"year":2007,"day":356,"flow":2.3},{"year":2007,"day":364,"flow":2.4},

      {"year":1977,"day":0,"flow":2.8},{"year":1977,"day":6,"flow":3.2},{"year":1977,"day":12,"flow":2.9},{"year":1977,"day":18,"flow":3.5},{"year":1977,"day":24,"flow":3.0},{"year":1977,"day":30,"flow":3.3},{"year":1977,"day":36,"flow":2.9},{"year":1977,"day":42,"flow":3.2},{"year":1977,"day":48,"flow":2.8},{"year":1977,"day":54,"flow":3.4},{"year":1977,"day":60,"flow":3.0},{"year":1977,"day":66,"flow":3.3},{"year":1977,"day":72,"flow":3.6},{"year":1977,"day":78,"flow":4.2},{"year":1977,"day":84,"flow":5.0},{"year":1977,"day":90,"flow":6.0},{"year":1977,"day":96,"flow":7.2},{"year":1977,"day":102,"flow":9},{"year":1977,"day":108,"flow":12},{"year":1977,"day":114,"flow":16},{"year":1977,"day":120,"flow":22},{"year":1977,"day":126,"flow":30},{"year":1977,"day":132,"flow":45},{"year":1977,"day":136,"flow":60},{"year":1977,"day":140,"flow":72},{"year":1977,"day":144,"flow":65},{"year":1977,"day":150,"flow":58},{"year":1977,"day":156,"flow":50},{"year":1977,"day":162,"flow":44},{"year":1977,"day":168,"flow":38},{"year":1977,"day":175,"flow":30},{"year":1977,"day":182,"flow":24},{"year":1977,"day":190,"flow":19},{"year":1977,"day":200,"flow":15},{"year":1977,"day":212,"flow":11.5},{"year":1977,"day":226,"flow":9},{"year":1977,"day":240,"flow":7.4},{"year":1977,"day":255,"flow":6.5},{"year":1977,"day":270,"flow":5.8},{"year":1977,"day":285,"flow":5.3},{"year":1977,"day":300,"flow":4.8},{"year":1977,"day":315,"flow":4.3},{"year":1977,"day":330,"flow":3.9},{"year":1977,"day":345,"flow":3.6},{"year":1977,"day":355,"flow":3.4},{"year":1977,"day":364,"flow":3.3},

      {"year":1982,"day":0,"flow":1.6},{"year":1982,"day":6,"flow":1.8},{"year":1982,"day":12,"flow":1.5},{"year":1982,"day":18,"flow":1.7},{"year":1982,"day":24,"flow":1.55},{"year":1982,"day":30,"flow":1.75},{"year":1982,"day":36,"flow":1.5},{"year":1982,"day":42,"flow":1.65},{"year":1982,"day":48,"flow":1.45},{"year":1982,"day":54,"flow":1.6},{"year":1982,"day":60,"flow":1.5},{"year":1982,"day":66,"flow":1.65},{"year":1982,"day":72,"flow":1.6},{"year":1982,"day":78,"flow":1.7},{"year":1982,"day":84,"flow":1.75},{"year":1982,"day":90,"flow":1.9},{"year":1982,"day":96,"flow":2.1},{"year":1982,"day":102,"flow":2.4},{"year":1982,"day":108,"flow":2.8},{"year":1982,"day":114,"flow":3.3},{"year":1982,"day":120,"flow":4.2},{"year":1982,"day":126,"flow":5.5},{"year":1982,"day":132,"flow":7.5},{"year":1982,"day":138,"flow":10},{"year":1982,"day":144,"flow":14},{"year":1982,"day":150,"flow":19},{"year":1982,"day":156,"flow":24},{"year":1982,"day":162,"flow":28},{"year":1982,"day":166,"flow":30},{"year":1982,"day":170,"flow":27},{"year":1982,"day":176,"flow":22},{"year":1982,"day":182,"flow":18},{"year":1982,"day":190,"flow":14},{"year":1982,"day":200,"flow":10.5},{"year":1982,"day":212,"flow":7.5},{"year":1982,"day":226,"flow":5.5},{"year":1982,"day":240,"flow":4.3},{"year":1982,"day":255,"flow":3.6},{"year":1982,"day":270,"flow":3.1},{"year":1982,"day":285,"flow":2.8},{"year":1982,"day":300,"flow":2.6},{"year":1982,"day":315,"flow":2.4},{"year":1982,"day":330,"flow":2.2},{"year":1982,"day":345,"flow":2.0},{"year":1982,"day":355,"flow":1.9},{"year":1982,"day":364,"flow":1.85},

      {"year":1988,"day":0,"flow":2.2},{"year":1988,"day":6,"flow":2.0},{"year":1988,"day":12,"flow":2.3},{"year":1988,"day":18,"flow":2.1},{"year":1988,"day":24,"flow":2.4},{"year":1988,"day":30,"flow":2.2},{"year":1988,"day":36,"flow":2.0},{"year":1988,"day":42,"flow":2.3},{"year":1988,"day":48,"flow":2.1},{"year":1988,"day":54,"flow":2.0},{"year":1988,"day":60,"flow":2.3},{"year":1988,"day":66,"flow":2.5},{"year":1988,"day":72,"flow":2.9},{"year":1988,"day":78,"flow":3.4},{"year":1988,"day":84,"flow":4.1},{"year":1988,"day":90,"flow":5.2},{"year":1988,"day":96,"flow":6.8},{"year":1988,"day":102,"flow":8.8},{"year":1988,"day":108,"flow":11.5},{"year":1988,"day":114,"flow":15},{"year":1988,"day":120,"flow":19},{"year":1988,"day":126,"flow":24},{"year":1988,"day":132,"flow":30},{"year":1988,"day":138,"flow":37},{"year":1988,"day":144,"flow":43},{"year":1988,"day":150,"flow":40},{"year":1988,"day":156,"flow":36},{"year":1988,"day":162,"flow":33},{"year":1988,"day":168,"flow":29},{"year":1988,"day":175,"flow":25},{"year":1988,"day":182,"flow":21},{"year":1988,"day":190,"flow":17},{"year":1988,"day":200,"flow":13},{"year":1988,"day":212,"flow":9.8},{"year":1988,"day":226,"flow":7.4},{"year":1988,"day":240,"flow":6.0},{"year":1988,"day":255,"flow":5.1},{"year":1988,"day":270,"flow":4.5},{"year":1988,"day":285,"flow":4.0},{"year":1988,"day":300,"flow":3.6},{"year":1988,"day":310,"flow":3.3},{"year":1988,"day":318,"flow":3.0},{"year":1988,"day":324,"flow":3.6},{"year":1988,"day":330,"flow":2.6},{"year":1988,"day":336,"flow":3.2},{"year":1988,"day":342,"flow":2.4},{"year":1988,"day":348,"flow":3.0},{"year":1988,"day":354,"flow":2.2},{"year":1988,"day":360,"flow":2.6},{"year":1988,"day":364,"flow":2.5},

      {"year":1994,"day":0,"flow":2.6},{"year":1994,"day":6,"flow":2.4},{"year":1994,"day":12,"flow":2.7},{"year":1994,"day":18,"flow":2.5},{"year":1994,"day":24,"flow":2.3},{"year":1994,"day":30,"flow":2.6},{"year":1994,"day":36,"flow":2.4},{"year":1994,"day":42,"flow":2.2},{"year":1994,"day":48,"flow":2.5},{"year":1994,"day":54,"flow":2.3},{"year":1994,"day":60,"flow":2.6},{"year":1994,"day":66,"flow":2.8},{"year":1994,"day":72,"flow":3.2},{"year":1994,"day":78,"flow":3.7},{"year":1994,"day":84,"flow":4.3},{"year":1994,"day":90,"flow":5.0},{"year":1994,"day":96,"flow":5.8},{"year":1994,"day":102,"flow":7.0},{"year":1994,"day":108,"flow":8.5},{"year":1994,"day":114,"flow":11},{"year":1994,"day":120,"flow":14},{"year":1994,"day":126,"flow":18},{"year":1994,"day":132,"flow":23},{"year":1994,"day":138,"flow":29},{"year":1994,"day":144,"flow":35},{"year":1994,"day":150,"flow":42},{"year":1994,"day":156,"flow":48},{"year":1994,"day":160,"flow":52},{"year":1994,"day":164,"flow":47},{"year":1994,"day":170,"flow":40},{"year":1994,"day":176,"flow":34},{"year":1994,"day":182,"flow":28},{"year":1994,"day":190,"flow":22},{"year":1994,"day":200,"flow":17},{"year":1994,"day":212,"flow":12.5},{"year":1994,"day":226,"flow":9.5},{"year":1994,"day":240,"flow":7.8},{"year":1994,"day":255,"flow":6.6},{"year":1994,"day":270,"flow":5.8},{"year":1994,"day":285,"flow":5.1},{"year":1994,"day":300,"flow":4.6},{"year":1994,"day":315,"flow":4.1},{"year":1994,"day":330,"flow":3.7},{"year":1994,"day":340,"flow":3.4},{"year":1994,"day":348,"flow":3.8},{"year":1994,"day":356,"flow":3.1},{"year":1994,"day":364,"flow":3.0},

      {"year":2002,"day":0,"flow":1.7},{"year":2002,"day":6,"flow":1.9},{"year":2002,"day":12,"flow":1.6},{"year":2002,"day":18,"flow":1.8},{"year":2002,"day":24,"flow":1.65},{"year":2002,"day":30,"flow":1.9},{"year":2002,"day":36,"flow":1.7},{"year":2002,"day":42,"flow":1.85},{"year":2002,"day":48,"flow":1.6},{"year":2002,"day":54,"flow":1.8},{"year":2002,"day":60,"flow":1.7},{"year":2002,"day":66,"flow":1.9},{"year":2002,"day":72,"flow":2.1},{"year":2002,"day":78,"flow":2.4},{"year":2002,"day":84,"flow":2.9},{"year":2002,"day":90,"flow":3.6},{"year":2002,"day":96,"flow":4.6},{"year":2002,"day":102,"flow":6.0},{"year":2002,"day":108,"flow":8.0},{"year":2002,"day":114,"flow":10.5},{"year":2002,"day":120,"flow":13},{"year":2002,"day":126,"flow":16},{"year":2002,"day":132,"flow":19},{"year":2002,"day":138,"flow":21},{"year":2002,"day":144,"flow":22},{"year":2002,"day":150,"flow":21},{"year":2002,"day":156,"flow":19},{"year":2002,"day":162,"flow":17},{"year":2002,"day":168,"flow":15},{"year":2002,"day":175,"flow":13},{"year":2002,"day":182,"flow":11},{"year":2002,"day":190,"flow":9.0},{"year":2002,"day":200,"flow":7.2},{"year":2002,"day":212,"flow":5.5},{"year":2002,"day":226,"flow":4.3},{"year":2002,"day":240,"flow":3.5},{"year":2002,"day":255,"flow":3.0},{"year":2002,"day":270,"flow":2.7},{"year":2002,"day":285,"flow":2.5},{"year":2002,"day":300,"flow":2.35},{"year":2002,"day":315,"flow":2.2},{"year":2002,"day":330,"flow":2.05},{"year":2002,"day":340,"flow":1.9},{"year":2002,"day":346,"flow":1.5},{"year":2002,"day":350,"flow":1.9},{"year":2002,"day":356,"flow":1.7},{"year":2002,"day":364,"flow":1.75},

      {"year":2011,"day":0,"flow":2.4},{"year":2011,"day":6,"flow":2.6},{"year":2011,"day":12,"flow":2.3},{"year":2011,"day":18,"flow":2.5},{"year":2011,"day":24,"flow":2.7},{"year":2011,"day":30,"flow":2.4},{"year":2011,"day":36,"flow":2.6},{"year":2011,"day":42,"flow":2.9},{"year":2011,"day":48,"flow":2.7},{"year":2011,"day":54,"flow":3.1},{"year":2011,"day":60,"flow":3.4},{"year":2011,"day":66,"flow":3.9},{"year":2011,"day":72,"flow":4.6},{"year":2011,"day":78,"flow":5.5},{"year":2011,"day":84,"flow":6.8},{"year":2011,"day":90,"flow":8.3},{"year":2011,"day":96,"flow":10.5},{"year":2011,"day":102,"flow":13},{"year":2011,"day":108,"flow":16.5},{"year":2011,"day":114,"flow":21},{"year":2011,"day":120,"flow":26},{"year":2011,"day":126,"flow":32},{"year":2011,"day":132,"flow":38},{"year":2011,"day":138,"flow":42},{"year":2011,"day":144,"flow":40},{"year":2011,"day":150,"flow":36},{"year":2011,"day":156,"flow":32},{"year":2011,"day":162,"flow":28},{"year":2011,"day":168,"flow":24},{"year":2011,"day":175,"flow":20},{"year":2011,"day":182,"flow":16.5},{"year":2011,"day":190,"flow":13.5},{"year":2011,"day":200,"flow":10.5},{"year":2011,"day":212,"flow":8},{"year":2011,"day":226,"flow":6.2},{"year":2011,"day":240,"flow":5.1},{"year":2011,"day":255,"flow":4.4},{"year":2011,"day":270,"flow":3.9},{"year":2011,"day":285,"flow":3.5},{"year":2011,"day":300,"flow":3.2},{"year":2011,"day":315,"flow":2.9},{"year":2011,"day":330,"flow":2.7},{"year":2011,"day":345,"flow":2.5},{"year":2011,"day":355,"flow":2.4},{"year":2011,"day":364,"flow":2.35},

      {"year":1990,"day":0,"flow":1.5},{"year":1990,"day":6,"flow":1.35},{"year":1990,"day":12,"flow":1.6},{"year":1990,"day":18,"flow":1.4},{"year":1990,"day":24,"flow":1.3},{"year":1990,"day":30,"flow":1.5},{"year":1990,"day":36,"flow":1.35},{"year":1990,"day":42,"flow":1.45},{"year":1990,"day":48,"flow":1.3},{"year":1990,"day":54,"flow":1.4},{"year":1990,"day":60,"flow":1.5},{"year":1990,"day":66,"flow":1.45},{"year":1990,"day":72,"flow":1.6},{"year":1990,"day":78,"flow":1.8},{"year":1990,"day":84,"flow":2.1},{"year":1990,"day":90,"flow":2.5},{"year":1990,"day":96,"flow":3.1},{"year":1990,"day":102,"flow":3.9},{"year":1990,"day":108,"flow":5.0},{"year":1990,"day":114,"flow":6.6},{"year":1990,"day":120,"flow":8.8},{"year":1990,"day":126,"flow":11.5},{"year":1990,"day":132,"flow":15},{"year":1990,"day":138,"flow":19},{"year":1990,"day":144,"flow":24},{"year":1990,"day":150,"flow":30},{"year":1990,"day":156,"flow":35},{"year":1990,"day":162,"flow":38},{"year":1990,"day":168,"flow":35},{"year":1990,"day":175,"flow":30},{"year":1990,"day":182,"flow":25},{"year":1990,"day":190,"flow":20},{"year":1990,"day":200,"flow":15},{"year":1990,"day":212,"flow":11},{"year":1990,"day":226,"flow":8.0},{"year":1990,"day":240,"flow":6.3},{"year":1990,"day":255,"flow":5.2},{"year":1990,"day":270,"flow":4.5},{"year":1990,"day":285,"flow":4.0},{"year":1990,"day":300,"flow":3.6},{"year":1990,"day":315,"flow":3.2},{"year":1990,"day":330,"flow":2.9},{"year":1990,"day":345,"flow":2.6},{"year":1990,"day":355,"flow":2.4},{"year":1990,"day":364,"flow":2.3}
    ],
    "highlight": [
      {"year":"1970","day":0,"flow":1.25},{"year":"1970","day":6,"flow":1.0},{"year":"1970","day":9,"flow":1.17},{"year":"1970","day":14,"flow":1.52},{"year":"1970","day":17,"flow":1.15},{"year":"1970","day":20,"flow":1.46},{"year":"1970","day":23,"flow":1.5},{"year":"1970","day":28,"flow":1.34},{"year":"1970","day":33,"flow":1.38},{"year":"1970","day":38,"flow":1.34},{"year":"1970","day":43,"flow":1.26},{"year":"1970","day":47,"flow":1.4},{"year":"1970","day":51,"flow":1.15},{"year":"1970","day":54,"flow":1.42},{"year":"1970","day":58,"flow":1.14},{"year":"1970","day":61,"flow":1.4},{"year":"1970","day":64,"flow":1.17},{"year":"1970","day":66,"flow":1.46},{"year":"1970","day":69,"flow":1.17},{"year":"1970","day":73,"flow":1.22},{"year":"1970","day":78,"flow":1.26},{"year":"1970","day":83,"flow":1.14},{"year":"1970","day":85,"flow":1.42},{"year":"1970","day":92,"flow":1.48},{"year":"1970","day":102,"flow":1.48},{"year":"1970","day":104,"flow":1.12},{"year":"1970","day":105,"flow":1.55},{"year":"1970","day":110,"flow":1.62},{"year":"1970","day":116,"flow":1.59},{"year":"1970","day":118,"flow":1.46},{"year":"1970","day":121,"flow":1.89},{"year":"1970","day":123,"flow":2.68},{"year":"1970","day":125,"flow":4.0},{"year":"1970","day":128,"flow":5.85},{"year":"1970","day":130,"flow":8.3},{"year":"1970","day":132,"flow":10.8},{"year":"1970","day":135,"flow":16.6},{"year":"1970","day":137,"flow":24.5},{"year":"1970","day":140,"flow":30.4},{"year":"1970","day":142,"flow":35.5},{"year":"1970","day":145,"flow":54.6},{"year":"1970","day":148,"flow":41.8},{"year":"1970","day":150,"flow":35.5},{"year":"1970","day":153,"flow":44.6},{"year":"1970","day":156,"flow":55.5},{"year":"1970","day":157,"flow":61.6},{"year":"1970","day":159,"flow":47.5},{"year":"1970","day":161,"flow":39.5},{"year":"1970","day":164,"flow":43},{"year":"1970","day":167,"flow":50},{"year":"1970","day":169,"flow":36.6},{"year":"1970","day":172,"flow":29.2},{"year":"1970","day":174,"flow":23.5},{"year":"1970","day":179,"flow":18.2},{"year":"1970","day":182,"flow":14.6},{"year":"1970","day":187,"flow":12.1},{"year":"1970","day":192,"flow":9.45},{"year":"1970","day":195,"flow":8.1},{"year":"1970","day":200,"flow":6.65},{"year":"1970","day":204,"flow":5.7},{"year":"1970","day":210,"flow":4.83},{"year":"1970","day":215,"flow":4.25},{"year":"1970","day":221,"flow":3.8},{"year":"1970","day":226,"flow":3.47},{"year":"1970","day":231,"flow":3.13},{"year":"1970","day":236,"flow":2.93},{"year":"1970","day":240,"flow":2.77},{"year":"1970","day":245,"flow":2.72},{"year":"1970","day":251,"flow":2.8},{"year":"1970","day":258,"flow":2.84},{"year":"1970","day":267,"flow":2.9},{"year":"1970","day":277,"flow":2.92},{"year":"1970","day":286,"flow":2.87},{"year":"1970","day":296,"flow":2.84},{"year":"1970","day":303,"flow":2.8},{"year":"1970","day":310,"flow":2.82},{"year":"1970","day":315,"flow":2.46},{"year":"1970","day":319,"flow":1.86},{"year":"1970","day":324,"flow":1.97},{"year":"1970","day":330,"flow":1.86},{"year":"1970","day":336,"flow":1.66},{"year":"1970","day":343,"flow":1.42},{"year":"1970","day":351,"flow":1.37},{"year":"1970","day":357,"flow":1.46},{"year":"1970","day":360,"flow":1.84},{"year":"1970","day":364,"flow":1.48},

      {"year":"1995","day":0,"flow":1.89},{"year":"1995","day":2,"flow":1.59},{"year":"1995","day":5,"flow":1.78},{"year":"1995","day":10,"flow":1.5},{"year":"1995","day":14,"flow":1.73},{"year":"1995","day":18,"flow":1.78},{"year":"1995","day":24,"flow":1.52},{"year":"1995","day":29,"flow":1.69},{"year":"1995","day":34,"flow":1.89},{"year":"1995","day":40,"flow":1.69},{"year":"1995","day":45,"flow":1.78},{"year":"1995","day":50,"flow":1.59},{"year":"1995","day":55,"flow":1.81},{"year":"1995","day":61,"flow":1.78},{"year":"1995","day":67,"flow":1.73},{"year":"1995","day":72,"flow":1.89},{"year":"1995","day":77,"flow":1.78},{"year":"1995","day":85,"flow":1.89},{"year":"1995","day":92,"flow":1.94},{"year":"1995","day":99,"flow":2.15},{"year":"1995","day":105,"flow":2.75},{"year":"1995","day":111,"flow":2.75},{"year":"1995","day":117,"flow":2.75},{"year":"1995","day":122,"flow":3.1},{"year":"1995","day":125,"flow":4.0},{"year":"1995","day":129,"flow":5.85},{"year":"1995","day":132,"flow":8.1},{"year":"1995","day":135,"flow":11.0},{"year":"1995","day":138,"flow":16.2},{"year":"1995","day":141,"flow":20.3},{"year":"1995","day":144,"flow":18.6},{"year":"1995","day":147,"flow":27.9},{"year":"1995","day":149,"flow":63},{"year":"1995","day":151,"flow":66},{"year":"1995","day":154,"flow":61},{"year":"1995","day":156,"flow":94},{"year":"1995","day":157,"flow":150},{"year":"1995","day":159,"flow":113},{"year":"1995","day":160,"flow":70.8},{"year":"1995","day":162,"flow":50},{"year":"1995","day":167,"flow":39.6},{"year":"1995","day":173,"flow":35.3},{"year":"1995","day":181,"flow":29.7},{"year":"1995","day":188,"flow":23.5},{"year":"1995","day":195,"flow":17.6},{"year":"1995","day":202,"flow":14.3},{"year":"1995","day":211,"flow":11.4},{"year":"1995","day":219,"flow":9.3},{"year":"1995","day":226,"flow":7.6},{"year":"1995","day":234,"flow":6.4},{"year":"1995","day":242,"flow":5.0},{"year":"1995","day":247,"flow":4.0},{"year":"1995","day":252,"flow":4.25},{"year":"1995","day":261,"flow":4.0},{"year":"1995","day":267,"flow":4.0},{"year":"1995","day":273,"flow":3.57},{"year":"1995","day":283,"flow":3.79},{"year":"1995","day":291,"flow":4.0},{"year":"1995","day":299,"flow":3.79},{"year":"1995","day":307,"flow":3.47},{"year":"1995","day":315,"flow":3.38},{"year":"1995","day":323,"flow":3.1},{"year":"1995","day":328,"flow":3.63},{"year":"1995","day":330,"flow":4.13},{"year":"1995","day":333,"flow":4.0},{"year":"1995","day":338,"flow":2.92},{"year":"1995","day":343,"flow":3.47},{"year":"1995","day":346,"flow":3.69},{"year":"1995","day":349,"flow":2.75},{"year":"1995","day":352,"flow":3.47},{"year":"1995","day":357,"flow":2.92},{"year":"1995","day":361,"flow":2.52},{"year":"1995","day":364,"flow":2.31},

      {"year":"2001","day":0,"flow":2.12},{"year":"2001","day":3,"flow":2.35},{"year":"2001","day":7,"flow":2.2},{"year":"2001","day":12,"flow":2.3},{"year":"2001","day":17,"flow":2.06},{"year":"2001","day":21,"flow":2.25},{"year":"2001","day":26,"flow":2.12},{"year":"2001","day":31,"flow":2.3},{"year":"2001","day":36,"flow":2.06},{"year":"2001","day":42,"flow":2.2},{"year":"2001","day":48,"flow":2.0},{"year":"2001","day":53,"flow":2.12},{"year":"2001","day":59,"flow":2.25},{"year":"2001","day":65,"flow":2.12},{"year":"2001","day":71,"flow":2.3},{"year":"2001","day":77,"flow":2.06},{"year":"2001","day":81,"flow":1.94},{"year":"2001","day":88,"flow":2.0},{"year":"2001","day":94,"flow":1.84},{"year":"2001","day":98,"flow":1.95},{"year":"2001","day":102,"flow":1.9},{"year":"2001","day":105,"flow":2.0},{"year":"2001","day":110,"flow":2.25},{"year":"2001","day":114,"flow":2.52},{"year":"2001","day":117,"flow":3.38},{"year":"2001","day":121,"flow":4.79},{"year":"2001","day":124,"flow":6.4},{"year":"2001","day":128,"flow":7.6},{"year":"2001","day":131,"flow":9.9},{"year":"2001","day":133,"flow":12.3},{"year":"2001","day":136,"flow":15.2},{"year":"2001","day":138,"flow":11.7},{"year":"2001","day":140,"flow":8.06},{"year":"2001","day":144,"flow":11.2},{"year":"2001","day":148,"flow":14.3},{"year":"2001","day":150,"flow":12.4},{"year":"2001","day":154,"flow":15.2},{"year":"2001","day":156,"flow":12.8},{"year":"2001","day":159,"flow":15.2},{"year":"2001","day":163,"flow":12.2},{"year":"2001","day":167,"flow":11.7},{"year":"2001","day":170,"flow":13.3},{"year":"2001","day":173,"flow":13.1},{"year":"2001","day":176,"flow":11.4},{"year":"2001","day":179,"flow":9.0},{"year":"2001","day":182,"flow":7.9},{"year":"2001","day":187,"flow":6.8},{"year":"2001","day":195,"flow":5.35},{"year":"2001","day":202,"flow":4.39},{"year":"2001","day":211,"flow":3.69},{"year":"2001","day":219,"flow":3.19},{"year":"2001","day":226,"flow":2.84},{"year":"2001","day":234,"flow":2.52},{"year":"2001","day":242,"flow":2.36},{"year":"2001","day":250,"flow":2.25},{"year":"2001","day":258,"flow":2.2},{"year":"2001","day":266,"flow":2.12},{"year":"2001","day":273,"flow":2.1},{"year":"2001","day":283,"flow":2.19},{"year":"2001","day":291,"flow":2.13},{"year":"2001","day":299,"flow":2.19},{"year":"2001","day":307,"flow":2.06},{"year":"2001","day":315,"flow":2.12},{"year":"2001","day":323,"flow":2.06},{"year":"2001","day":329,"flow":1.46},{"year":"2001","day":332,"flow":1.94},{"year":"2001","day":335,"flow":1.3},{"year":"2001","day":338,"flow":1.89},{"year":"2001","day":341,"flow":1.55},{"year":"2001","day":346,"flow":1.73},{"year":"2001","day":349,"flow":1.37},{"year":"2001","day":352,"flow":1.73},{"year":"2001","day":356,"flow":1.37},{"year":"2001","day":359,"flow":1.69},{"year":"2001","day":362,"flow":1.3},{"year":"2001","day":364,"flow":1.46},

      {"year":"2013","day":0,"flow":2.67},{"year":"2013","day":2,"flow":2.84},{"year":"2013","day":7,"flow":2.56},{"year":"2013","day":14,"flow":2.6},{"year":"2013","day":21,"flow":2.45},{"year":"2013","day":29,"flow":2.52},{"year":"2013","day":34,"flow":2.36},{"year":"2013","day":37,"flow":2.6},{"year":"2013","day":41,"flow":2.45},{"year":"2013","day":45,"flow":2.12},{"year":"2013","day":50,"flow":1.78},{"year":"2013","day":53,"flow":2.06},{"year":"2013","day":54,"flow":2.19},{"year":"2013","day":58,"flow":2.36},{"year":"2013","day":61,"flow":2.39},{"year":"2013","day":64,"flow":2.56},{"year":"2013","day":67,"flow":2.3},{"year":"2013","day":71,"flow":2.52},{"year":"2013","day":73,"flow":2.6},{"year":"2013","day":77,"flow":3.19},{"year":"2013","day":80,"flow":3.47},{"year":"2013","day":85,"flow":3.79},{"year":"2013","day":88,"flow":4.5},{"year":"2013","day":91,"flow":5.35},{"year":"2013","day":94,"flow":7.14},{"year":"2013","day":96,"flow":6.65},{"year":"2013","day":98,"flow":6.2},{"year":"2013","day":103,"flow":5.85},{"year":"2013","day":108,"flow":5.05},{"year":"2013","day":113,"flow":5.6},{"year":"2013","day":116,"flow":6.4},{"year":"2013","day":119,"flow":7.6},{"year":"2013","day":122,"flow":9.4},{"year":"2013","day":125,"flow":12.0},{"year":"2013","day":128,"flow":21.6},{"year":"2013","day":129,"flow":36.3},{"year":"2013","day":131,"flow":51.4},{"year":"2013","day":133,"flow":47.1},{"year":"2013","day":135,"flow":37.9},{"year":"2013","day":138,"flow":32.2},{"year":"2013","day":141,"flow":43.2},{"year":"2013","day":144,"flow":36.3},{"year":"2013","day":148,"flow":29.2},{"year":"2013","day":151,"flow":33.2},{"year":"2013","day":154,"flow":37.9},{"year":"2013","day":159,"flow":41.4},{"year":"2013","day":162,"flow":45.0},{"year":"2013","day":166,"flow":51.4},{"year":"2013","day":168,"flow":65.8},{"year":"2013","day":170,"flow":111},{"year":"2013","day":171,"flow":195},{"year":"2013","day":173,"flow":103},{"year":"2013","day":174,"flow":60},{"year":"2013","day":177,"flow":52.5},{"year":"2013","day":183,"flow":44.4},{"year":"2013","day":188,"flow":34.2},{"year":"2013","day":193,"flow":25.6},{"year":"2013","day":198,"flow":21.6},{"year":"2013","day":202,"flow":15.2},{"year":"2013","day":211,"flow":14.0},{"year":"2013","day":215,"flow":13.8},{"year":"2013","day":219,"flow":12.0},{"year":"2013","day":226,"flow":9.86},{"year":"2013","day":234,"flow":8.06},{"year":"2013","day":242,"flow":6.95},{"year":"2013","day":248,"flow":5.85},{"year":"2013","day":254,"flow":6.0},{"year":"2013","day":261,"flow":5.51},{"year":"2013","day":267,"flow":6.0},{"year":"2013","day":272,"flow":6.54},{"year":"2013","day":275,"flow":5.85},{"year":"2013","day":283,"flow":5.51},{"year":"2013","day":291,"flow":5.22},{"year":"2013","day":299,"flow":4.92},{"year":"2013","day":307,"flow":4.5},{"year":"2013","day":315,"flow":4.25},{"year":"2013","day":323,"flow":3.69},{"year":"2013","day":325,"flow":2.19},{"year":"2013","day":329,"flow":1.73},{"year":"2013","day":333,"flow":2.3},{"year":"2013","day":338,"flow":1.3},{"year":"2013","day":341,"flow":0.97},{"year":"2013","day":343,"flow":1.3},{"year":"2013","day":346,"flow":2.67},{"year":"2013","day":352,"flow":2.3},{"year":"2013","day":359,"flow":2.52},{"year":"2013","day":364,"flow":2.45},

      {"year":"2017","day":0,"flow":3.0},{"year":"2017","day":2,"flow":3.33},{"year":"2017","day":6,"flow":3.19},{"year":"2017","day":10,"flow":2.84},{"year":"2017","day":15,"flow":2.67},{"year":"2017","day":20,"flow":2.75},{"year":"2017","day":23,"flow":2.52},{"year":"2017","day":28,"flow":2.39},{"year":"2017","day":34,"flow":2.12},{"year":"2017","day":42,"flow":2.0},{"year":"2017","day":47,"flow":2.25},{"year":"2017","day":52,"flow":2.0},{"year":"2017","day":54,"flow":1.69},{"year":"2017","day":58,"flow":1.63},{"year":"2017","day":61,"flow":1.89},{"year":"2017","day":66,"flow":1.89},{"year":"2017","day":70,"flow":2.0},{"year":"2017","day":73,"flow":2.52},{"year":"2017","day":77,"flow":2.92},{"year":"2017","day":80,"flow":3.1},{"year":"2017","day":83,"flow":3.38},{"year":"2017","day":88,"flow":3.79},{"year":"2017","day":94,"flow":4.5},{"year":"2017","day":98,"flow":4.79},{"year":"2017","day":103,"flow":4.25},{"year":"2017","day":108,"flow":5.35},{"year":"2017","day":113,"flow":6.77},{"year":"2017","day":116,"flow":8.5},{"year":"2017","day":121,"flow":8.8},{"year":"2017","day":124,"flow":9.6},{"year":"2017","day":125,"flow":15.2},{"year":"2017","day":129,"flow":21.6},{"year":"2017","day":131,"flow":30.5},{"year":"2017","day":134,"flow":31.6},{"year":"2017","day":136,"flow":27.2},{"year":"2017","day":140,"flow":21.6},{"year":"2017","day":143,"flow":30.5},{"year":"2017","day":146,"flow":40.7},{"year":"2017","day":150,"flow":42},{"year":"2017","day":154,"flow":45.8},{"year":"2017","day":157,"flow":39.5},{"year":"2017","day":162,"flow":34.3},{"year":"2017","day":167,"flow":29.7},{"year":"2017","day":171,"flow":23.5},{"year":"2017","day":174,"flow":18.2},{"year":"2017","day":179,"flow":17.6},{"year":"2017","day":187,"flow":13.6},{"year":"2017","day":195,"flow":9.6},{"year":"2017","day":202,"flow":7.6},{"year":"2017","day":211,"flow":6.0},{"year":"2017","day":219,"flow":4.6},{"year":"2017","day":226,"flow":3.9},{"year":"2017","day":234,"flow":3.3},{"year":"2017","day":242,"flow":3.0},{"year":"2017","day":250,"flow":2.84},{"year":"2017","day":258,"flow":2.75},{"year":"2017","day":266,"flow":2.75},{"year":"2017","day":273,"flow":2.67},{"year":"2017","day":283,"flow":2.61},{"year":"2017","day":288,"flow":2.5},{"year":"2017","day":291,"flow":3.1},{"year":"2017","day":299,"flow":3.1},{"year":"2017","day":307,"flow":2.92},{"year":"2017","day":310,"flow":2.01},{"year":"2017","day":311,"flow":2.67},{"year":"2017","day":315,"flow":2.92},{"year":"2017","day":319,"flow":3.27},{"year":"2017","day":325,"flow":2.75},{"year":"2017","day":330,"flow":3.27},{"year":"2017","day":333,"flow":3.1},{"year":"2017","day":338,"flow":2.45},{"year":"2017","day":343,"flow":1.94},{"year":"2017","day":349,"flow":1.73},{"year":"2017","day":356,"flow":1.5},{"year":"2017","day":362,"flow":1.22},{"year":"2017","day":364,"flow":1.15},

      {"year":"2018","day":0,"flow":1.31},{"year":"2018","day":2,"flow":1.54},{"year":"2018","day":6,"flow":1.89},{"year":"2018","day":9,"flow":2.01},{"year":"2018","day":12,"flow":2.31},{"year":"2018","day":15,"flow":2.39},{"year":"2018","day":17,"flow":2.31},{"year":"2018","day":21,"flow":2.06},{"year":"2018","day":26,"flow":2.06},{"year":"2018","day":31,"flow":2.01},{"year":"2018","day":37,"flow":1.69},{"year":"2018","day":42,"flow":1.59},{"year":"2018","day":50,"flow":1.59},{"year":"2018","day":54,"flow":1.89},{"year":"2018","day":61,"flow":1.78},{"year":"2018","day":67,"flow":1.69},{"year":"2018","day":73,"flow":1.78},{"year":"2018","day":77,"flow":1.78},{"year":"2018","day":80,"flow":2.01},{"year":"2018","day":85,"flow":2.06},{"year":"2018","day":88,"flow":2.06},{"year":"2018","day":91,"flow":1.78},{"year":"2018","day":94,"flow":2.52},{"year":"2018","day":98,"flow":2.75},{"year":"2018","day":103,"flow":3.19},{"year":"2018","day":108,"flow":3.79},{"year":"2018","day":110,"flow":5.69},{"year":"2018","day":112,"flow":8.5},{"year":"2018","day":114,"flow":12.8},{"year":"2018","day":117,"flow":21},{"year":"2018","day":118,"flow":23},{"year":"2018","day":121,"flow":18.1},{"year":"2018","day":122,"flow":16.2},{"year":"2018","day":125,"flow":26.3},{"year":"2018","day":129,"flow":36.3},{"year":"2018","day":131,"flow":45.8},{"year":"2018","day":133,"flow":49.1},{"year":"2018","day":135,"flow":39.9},{"year":"2018","day":138,"flow":36.3},{"year":"2018","day":141,"flow":40.7},{"year":"2018","day":144,"flow":38.5},{"year":"2018","day":149,"flow":32.4},{"year":"2018","day":154,"flow":22.9},{"year":"2018","day":159,"flow":17.1},{"year":"2018","day":162,"flow":14.0},{"year":"2018","day":165,"flow":13.6},{"year":"2018","day":168,"flow":15.2},{"year":"2018","day":173,"flow":16.6},{"year":"2018","day":176,"flow":14.3},{"year":"2018","day":181,"flow":12.1},{"year":"2018","day":185,"flow":13.1},{"year":"2018","day":190,"flow":10.8},{"year":"2018","day":195,"flow":9.0},{"year":"2018","day":202,"flow":7.6},{"year":"2018","day":211,"flow":6.0},{"year":"2018","day":219,"flow":4.79},{"year":"2018","day":226,"flow":4.02},{"year":"2018","day":234,"flow":3.57},{"year":"2018","day":242,"flow":3.38},{"year":"2018","day":250,"flow":3.27},{"year":"2018","day":258,"flow":3.24},{"year":"2018","day":266,"flow":3.27},{"year":"2018","day":273,"flow":3.33},{"year":"2018","day":283,"flow":3.19},{"year":"2018","day":291,"flow":3.05},{"year":"2018","day":299,"flow":2.92},{"year":"2018","day":307,"flow":2.84},{"year":"2018","day":315,"flow":2.75},{"year":"2018","day":323,"flow":2.92},{"year":"2018","day":327,"flow":2.67},{"year":"2018","day":333,"flow":2.92},{"year":"2018","day":338,"flow":2.31},{"year":"2018","day":343,"flow":2.06},{"year":"2018","day":346,"flow":2.31},{"year":"2018","day":351,"flow":1.94},{"year":"2018","day":356,"flow":2.12},{"year":"2018","day":360,"flow":2.19},{"year":"2018","day":364,"flow":1.94},

      {"year":"2019","day":0,"flow":2.15},{"year":"2019","day":2,"flow":2.01},{"year":"2019","day":6,"flow":2.19},{"year":"2019","day":10,"flow":1.94},{"year":"2019","day":14,"flow":2.12},{"year":"2019","day":18,"flow":2.01},{"year":"2019","day":21,"flow":1.78},{"year":"2019","day":25,"flow":1.69},{"year":"2019","day":28,"flow":1.89},{"year":"2019","day":33,"flow":1.78},{"year":"2019","day":39,"flow":1.59},{"year":"2019","day":45,"flow":1.55},{"year":"2019","day":50,"flow":1.5},{"year":"2019","day":54,"flow":1.42},{"year":"2019","day":58,"flow":1.26},{"year":"2019","day":61,"flow":1.17},{"year":"2019","day":66,"flow":1.19},{"year":"2019","day":67,"flow":1.42},{"year":"2019","day":70,"flow":1.59},{"year":"2019","day":73,"flow":2.39},{"year":"2019","day":75,"flow":2.84},{"year":"2019","day":78,"flow":3.38},{"year":"2019","day":80,"flow":3.79},{"year":"2019","day":82,"flow":4.2},{"year":"2019","day":85,"flow":3.57},{"year":"2019","day":88,"flow":3.79},{"year":"2019","day":94,"flow":3.38},{"year":"2019","day":100,"flow":3.47},{"year":"2019","day":106,"flow":3.0},{"year":"2019","day":110,"flow":3.27},{"year":"2019","day":116,"flow":4.79},{"year":"2019","day":121,"flow":4.5},{"year":"2019","day":125,"flow":4.39},{"year":"2019","day":127,"flow":5.05},{"year":"2019","day":130,"flow":9.6},{"year":"2019","day":133,"flow":14.3},{"year":"2019","day":136,"flow":10.7},{"year":"2019","day":141,"flow":9.6},{"year":"2019","day":144,"flow":17.1},{"year":"2019","day":148,"flow":21.6},{"year":"2019","day":152,"flow":19.7},{"year":"2019","day":157,"flow":23.5},{"year":"2019","day":162,"flow":16.2},{"year":"2019","day":167,"flow":16.5},{"year":"2019","day":168,"flow":13.6},{"year":"2019","day":173,"flow":15.2},{"year":"2019","day":179,"flow":18.6},{"year":"2019","day":184,"flow":17.1},{"year":"2019","day":187,"flow":19.2},{"year":"2019","day":192,"flow":15.2},{"year":"2019","day":198,"flow":12.1},{"year":"2019","day":202,"flow":17.1},{"year":"2019","day":207,"flow":11.4},{"year":"2019","day":211,"flow":9.86},{"year":"2019","day":215,"flow":11.4},{"year":"2019","day":221,"flow":9.3},{"year":"2019","day":226,"flow":7.6},{"year":"2019","day":234,"flow":6.77},{"year":"2019","day":242,"flow":5.69},{"year":"2019","day":250,"flow":4.92},{"year":"2019","day":258,"flow":4.79},{"year":"2019","day":266,"flow":4.39},{"year":"2019","day":273,"flow":4.25},{"year":"2019","day":280,"flow":4.13},{"year":"2019","day":286,"flow":3.63},{"year":"2019","day":291,"flow":3.47},{"year":"2019","day":299,"flow":3.38},{"year":"2019","day":304,"flow":3.1},{"year":"2019","day":307,"flow":2.31},{"year":"2019","day":310,"flow":3.27},{"year":"2019","day":315,"flow":2.67},{"year":"2019","day":318,"flow":3.27},{"year":"2019","day":321,"flow":2.52},{"year":"2019","day":327,"flow":3.1},{"year":"2019","day":330,"flow":2.19},{"year":"2019","day":337,"flow":2.67},{"year":"2019","day":343,"flow":2.52},{"year":"2019","day":349,"flow":2.75},{"year":"2019","day":352,"flow":3.27},{"year":"2019","day":356,"flow":3.5},{"year":"2019","day":359,"flow":2.31},{"year":"2019","day":362,"flow":2.06},{"year":"2019","day":364,"flow":2.25}
    ],
    "quantiles": [
      {"band":"q75","day":0,"flow":2.45},{"band":"q75","day":6,"flow":2.39},{"band":"q75","day":14,"flow":2.45},{"band":"q75","day":21,"flow":2.31},{"band":"q75","day":29,"flow":2.19},{"band":"q75","day":37,"flow":2.06},{"band":"q75","day":45,"flow":2.19},{"band":"q75","day":53,"flow":2.06},{"band":"q75","day":61,"flow":2.19},{"band":"q75","day":69,"flow":2.31},{"band":"q75","day":77,"flow":2.45},{"band":"q75","day":83,"flow":2.75},{"band":"q75","day":89,"flow":3.1},{"band":"q75","day":97,"flow":4.5},{"band":"q75","day":103,"flow":5.05},{"band":"q75","day":110,"flow":7.14},{"band":"q75","day":114,"flow":10.1},{"band":"q75","day":119,"flow":14.3},{"band":"q75","day":124,"flow":19.7},{"band":"q75","day":129,"flow":22.9},{"band":"q75","day":133,"flow":28.6},{"band":"q75","day":138,"flow":32.3},{"band":"q75","day":144,"flow":40.6},{"band":"q75","day":150,"flow":43.2},{"band":"q75","day":155,"flow":44.4},{"band":"q75","day":160,"flow":40.6},{"band":"q75","day":167,"flow":37.3},{"band":"q75","day":173,"flow":33.2},{"band":"q75","day":179,"flow":29.6},{"band":"q75","day":185,"flow":25},{"band":"q75","day":190,"flow":21},{"band":"q75","day":195,"flow":17.1},{"band":"q75","day":202,"flow":14.0},{"band":"q75","day":211,"flow":11.4},{"band":"q75","day":219,"flow":9.3},{"band":"q75","day":226,"flow":7.8},{"band":"q75","day":234,"flow":6.95},{"band":"q75","day":242,"flow":6.2},{"band":"q75","day":250,"flow":5.5},{"band":"q75","day":258,"flow":5.05},{"band":"q75","day":266,"flow":4.79},{"band":"q75","day":273,"flow":4.64},{"band":"q75","day":283,"flow":4.39},{"band":"q75","day":299,"flow":3.9},{"band":"q75","day":315,"flow":3.47},{"band":"q75","day":330,"flow":3.0},{"band":"q75","day":338,"flow":2.75},{"band":"q75","day":346,"flow":2.67},{"band":"q75","day":356,"flow":2.45},{"band":"q75","day":364,"flow":2.31},

      {"band":"q25","day":0,"flow":1.59},{"band":"q25","day":6,"flow":1.73},{"band":"q25","day":14,"flow":1.69},{"band":"q25","day":21,"flow":1.73},{"band":"q25","day":29,"flow":1.69},{"band":"q25","day":37,"flow":1.63},{"band":"q25","day":45,"flow":1.63},{"band":"q25","day":50,"flow":1.59},{"band":"q25","day":56,"flow":1.63},{"band":"q25","day":61,"flow":1.73},{"band":"q25","day":69,"flow":1.78},{"band":"q25","day":77,"flow":1.89},{"band":"q25","day":85,"flow":1.94},{"band":"q25","day":92,"flow":2.06},{"band":"q25","day":100,"flow":2.67},{"band":"q25","day":106,"flow":3.19},{"band":"q25","day":111,"flow":3.79},{"band":"q25","day":116,"flow":5.05},{"band":"q25","day":119,"flow":6.77},{"band":"q25","day":122,"flow":8.06},{"band":"q25","day":125,"flow":9.59},{"band":"q25","day":130,"flow":11.4},{"band":"q25","day":135,"flow":13.6},{"band":"q25","day":141,"flow":17.1},{"band":"q25","day":146,"flow":19.8},{"band":"q25","day":150,"flow":21.6},{"band":"q25","day":155,"flow":22.1},{"band":"q25","day":157,"flow":22.9},{"band":"q25","day":162,"flow":20.3},{"band":"q25","day":168,"flow":18.6},{"band":"q25","day":171,"flow":16.2},{"band":"q25","day":179,"flow":12.8},{"band":"q25","day":187,"flow":9.86},{"band":"q25","day":195,"flow":7.6},{"band":"q25","day":202,"flow":6.0},{"band":"q25","day":211,"flow":5.05},{"band":"q25","day":219,"flow":4.39},{"band":"q25","day":226,"flow":3.9},{"band":"q25","day":234,"flow":3.69},{"band":"q25","day":242,"flow":3.57},{"band":"q25","day":250,"flow":3.47},{"band":"q25","day":258,"flow":3.41},{"band":"q25","day":273,"flow":3.38},{"band":"q25","day":283,"flow":3.1},{"band":"q25","day":299,"flow":2.92},{"band":"q25","day":307,"flow":2.75},{"band":"q25","day":315,"flow":2.45},{"band":"q25","day":323,"flow":2.31},{"band":"q25","day":330,"flow":2.19},{"band":"q25","day":338,"flow":2.06},{"band":"q25","day":346,"flow":1.89},{"band":"q25","day":354,"flow":1.78},{"band":"q25","day":362,"flow":1.73},{"band":"q25","day":364,"flow":1.78}
    ]
  },
  "layer": [
    {
      "data": {"name": "others"},
      "mark": {"type": "line", "stroke": "#a3a3a3", "strokeWidth": 1, "clip": true},
      "encoding": {
        "x": {
          "field": "day",
          "type": "quantitative",
          "scale": {"domain": [-18.1, 377.8], "nice": false, "zero": false},
          "axis": {
            "title": null,
            "values": [0, 90, 181, 273, 365],
            "labelExpr": "datum.value == 90 ? 'Apr' : datum.value == 181 ? 'Jul' : datum.value == 273 ? 'Oct' : 'Jan'",
            "labelPadding": 2,
            "grid": true
          }
        },
        "y": {
          "field": "flow",
          "type": "quantitative",
          "scale": {"type": "log", "domain": [0.505, 256], "nice": false},
          "axis": {
            "title": "Discharge (m³/s)",
            "titleFontSize": 25,
            "titleX": -62,
            "titleY": 356.5,
            "titleAngle": -90,
            "titleBaseline": "alphabetic",
            "titleAlign": "center",
            "values": [1, 10, 100],
            "format": "~g",
            "labelPadding": 6,
            "grid": true
          }
        },
        "detail": {"field": "year", "type": "nominal"}
      }
    },
    {
      "data": {"name": "highlight"},
      "mark": {"type": "line", "strokeWidth": 2.6, "clip": true},
      "encoding": {
        "x": {"field": "day", "type": "quantitative"},
        "y": {"field": "flow", "type": "quantitative"},
        "color": {
          "field": "year",
          "type": "nominal",
          "scale": {
            "domain": ["1970", "1995", "2001", "2013", "2017", "2018", "2019"],
            "range": ["#e41a1c", "#377eb8", "#4daf4a", "#984ea3", "#ff7f00", "#ffff33", "#a65628"]
          },
          "legend": {
            "title": null,
            "orient": "none",
            "legendX": 684,
            "legendY": 70,
            "symbolType": "stroke",
            "symbolSize": 1024,
            "symbolStrokeWidth": 2.8,
            "labelFont": "Liberation Sans",
            "labelFontSize": 19,
            "labelColor": "#1a1a1a",
            "labelOffset": 16,
            "rowPadding": 10.5,
            "padding": 15,
            "fillColor": "white"
          }
        }
      }
    },
    {
      "data": {"name": "quantiles"},
      "mark": {"type": "line", "color": "black", "strokeWidth": 1.8, "strokeDash": [5, 3], "clip": true},
      "encoding": {
        "x": {"field": "day", "type": "quantitative"},
        "y": {"field": "flow", "type": "quantitative"},
        "detail": {"field": "band", "type": "nominal"}
      }
    },
    {
      "data": {"values": [{}]},
      "mark": {"type": "rule", "color": "#555555", "strokeWidth": 1.2},
      "encoding": {"y": {"datum": 256}}
    }
  ]
}
